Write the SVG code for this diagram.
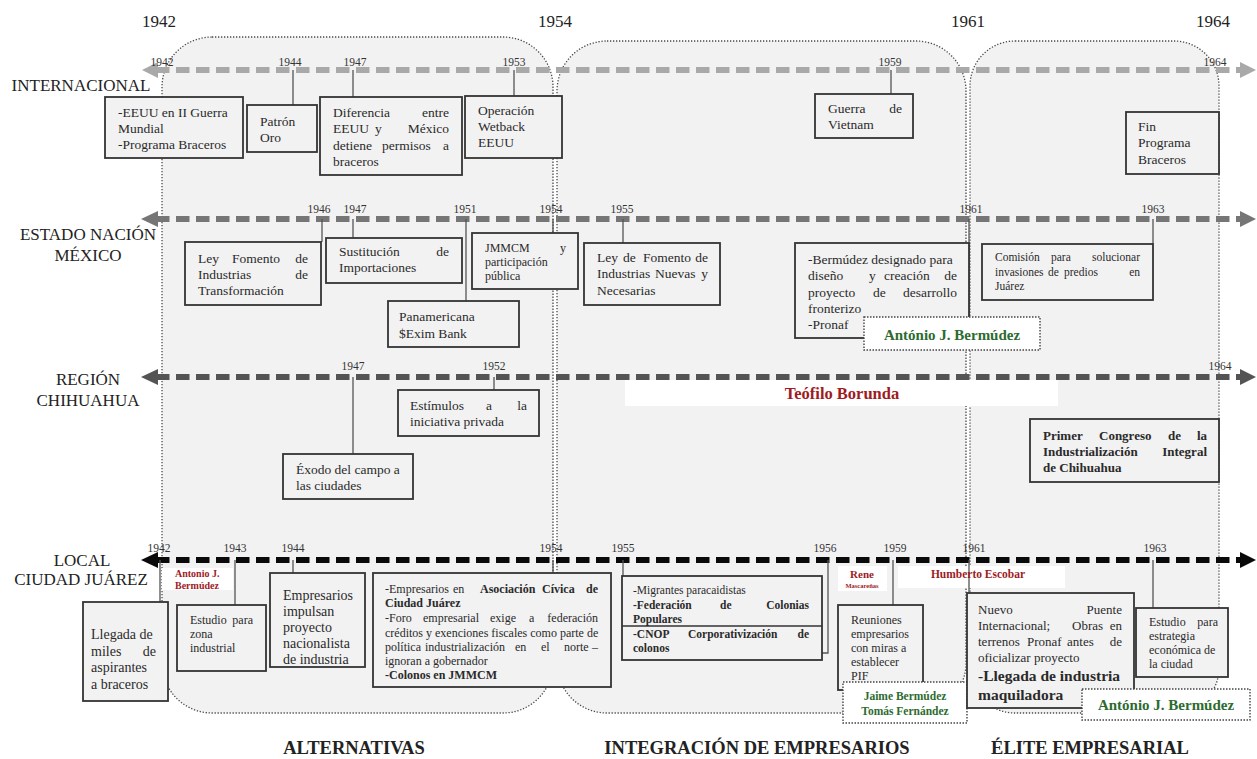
<svg xmlns="http://www.w3.org/2000/svg" width="1257" height="759" viewBox="0 0 1257 759">
<style>
.rg{fill:#f2f2f2;stroke:#4a4a4a;stroke-width:1.3;stroke-dasharray:1.3 1.7}
.bx{fill:#f2f2f2;stroke:#333;stroke-width:1.8}
.db{fill:#fff;stroke:#444;stroke-width:1.4;stroke-dasharray:1.5 1.5}
.wr{fill:#fff}
text{font-family:"Liberation Serif","Times New Roman",serif;fill:#2a2a2a}
.f135{font-size:13.5px}
.f14{font-size:14px}
.f13{font-size:13px}
.f12{font-size:12px}
.f115{font-size:11.5px}
.yr{font-size:11.5px;fill:#333;text-anchor:middle}
.top{font-size:17px;fill:#222;text-anchor:middle}
.lbl{font-size:17px;fill:#222;text-anchor:middle}
.sec{font-size:18.5px;font-weight:bold;fill:#222;text-anchor:middle}
.tk{stroke:#555;stroke-width:1.3;fill:none}
.b{font-weight:bold}
.e{text-anchor:end}
.m{text-anchor:middle}
.red{fill:#9e1b1f;font-weight:bold}
.grn{fill:#2d6b2f;font-weight:bold}
</style>

<g id="regions">
<rect class="rg" x="162" y="37" width="391" height="676" rx="50"/>
<rect class="rg" x="557" y="41" width="409" height="672" rx="50"/>
<rect class="rg" x="970" y="41" width="249" height="672" rx="45"/>
</g>

<g id="name-banners">
<rect class="wr" x="625" y="380" width="433" height="26"/>
<rect class="wr" x="162" y="568" width="71" height="22"/>
<rect class="wr" x="838" y="566" width="49" height="25"/>
<rect class="wr" x="898" y="566" width="167" height="22"/>
</g>

<g id="top-years">
<text class="top" x="159" y="27">1942</text>
<text class="top" x="555" y="27">1954</text>
<text class="top" x="968" y="27">1961</text>
<text class="top" x="1213" y="27">1964</text>
</g>

<g id="row-labels">
<text class="lbl" x="81" y="91">INTERNACIONAL</text>
<text class="lbl" x="88" y="240">ESTADO NACIÓN</text>
<text class="lbl" x="88" y="261">MÉXICO</text>
<text class="lbl" x="88" y="385">REGIÓN</text>
<text class="lbl" x="88" y="406">CHIHUAHUA</text>
<text class="lbl" x="82" y="566">LOCAL</text>
<text class="lbl" x="81" y="585">CIUDAD JUÁREZ</text>
</g>

<g id="connectors">
<line x1="156" y1="70" x2="1242" y2="70" stroke="#a9a9a9" stroke-width="6" stroke-dasharray="13.5 6.5"/>
<polygon points="142,70 158,62 158,78" fill="#a9a9a9"/>
<polygon points="1256,70 1240,62 1240,78" fill="#a9a9a9"/>
<line x1="156" y1="219" x2="1242" y2="219" stroke="#767676" stroke-width="6" stroke-dasharray="13.5 6.5"/>
<polygon points="141,219 158,211 158,227" fill="#767676"/>
<polygon points="1256,219 1240,211 1240,227" fill="#767676"/>
<line x1="156" y1="377" x2="1242" y2="377" stroke="#545454" stroke-width="6" stroke-dasharray="13.5 6.5"/>
<polygon points="141,377 158,369 158,385" fill="#545454"/>
<polygon points="1256,377 1240,369 1240,385" fill="#545454"/>
<line x1="156" y1="560" x2="1242" y2="560" stroke="#0a0a0a" stroke-width="6" stroke-dasharray="13.5 6.5"/>
<polygon points="141,560 158,552 158,568" fill="#0a0a0a"/>
<polygon points="1256,560 1240,552 1240,568" fill="#0a0a0a"/>
<path class="tk" d="M293,70V105 M353,70V97 M514,70V96 M891,70V94"/>
<path class="tk" d="M322,219V242 M353,219V238 M466,219V301 M553,219V233 M623,219V243 M969,219V318 M1153,219V244"/>
<path class="tk" d="M353,377V454 M494,377V390"/>
<path class="tk" d="M160,560V602 M235,560V605 M293,560V573 M553,560V573 M623,560V576 M828,560V653H822 M893,560V605 M969,560V593 M1153,560V608"/>
</g>

<g id="year-marks">
<text class="yr" x="162" y="66">1942</text>
<text class="yr" x="290" y="66">1944</text>
<text class="yr" x="355" y="66">1947</text>
<text class="yr" x="514" y="66">1953</text>
<text class="yr" x="890" y="66">1959</text>
<text class="yr" x="1215" y="66">1964</text>
<text class="yr" x="319" y="213">1946</text>
<text class="yr" x="355" y="213">1947</text>
<text class="yr" x="465" y="213">1951</text>
<text class="yr" x="551" y="213">1954</text>
<text class="yr" x="622" y="213">1955</text>
<text class="yr" x="971" y="213">1961</text>
<text class="yr" x="1153" y="213">1963</text>
<text class="yr" x="353" y="370">1947</text>
<text class="yr" x="494" y="370">1952</text>
<text class="yr" x="1220" y="370">1964</text>
<text class="yr" x="159" y="552">1942</text>
<text class="yr" x="235" y="552">1943</text>
<text class="yr" x="293" y="552">1944</text>
<text class="yr" x="551" y="552">1954</text>
<text class="yr" x="623" y="552">1955</text>
<text class="yr" x="825" y="552">1956</text>
<text class="yr" x="895" y="552">1959</text>
<text class="yr" x="974" y="552">1961</text>
<text class="yr" x="1155" y="552">1963</text>
</g>

<g id="n-eeuu-guerra">
<rect class="bx" x="105" y="97" width="138" height="61"/>
<text class="f135"><tspan x="118" y="117">-EEUU en II Guerra</tspan><tspan x="118" y="133">Mundial</tspan><tspan x="118" y="149">-Programa Braceros</tspan></text>
</g>
<g id="n-patron-oro">
<rect class="bx" x="247" y="105" width="70" height="47"/>
<text class="f135"><tspan x="260" y="126">Patrón</tspan><tspan x="260" y="142">Oro</tspan></text>
</g>
<g id="n-diferencia">
<rect class="bx" x="320" y="97" width="142" height="78"/>
<text class="f135"><tspan x="333" y="117">Diferencia</tspan><tspan class="e" x="449" y="117">entre</tspan><tspan x="333" y="133">EEUU</tspan><tspan x="375" y="133">y</tspan><tspan class="e" x="449" y="133">México</tspan><tspan x="333" y="150">detiene</tspan><tspan x="382" y="150">permisos</tspan><tspan class="e" x="449" y="150">a</tspan><tspan x="333" y="166">braceros</tspan></text>
</g>
<g id="n-wetback">
<rect class="bx" x="465" y="96" width="97" height="62"/>
<text class="f135"><tspan x="478" y="115">Operación</tspan><tspan x="478" y="131">Wetback</tspan><tspan x="478" y="147">EEUU</tspan></text>
</g>
<g id="n-vietnam">
<rect class="bx" x="815" y="94" width="98" height="44"/>
<text class="f135"><tspan x="828" y="113">Guerra</tspan><tspan class="e" x="902" y="113">de</tspan><tspan x="828" y="129">Vietnam</tspan></text>
</g>
<g id="n-fin-braceros">
<rect class="bx" x="1126" y="112" width="93" height="62"/>
<text class="f135"><tspan x="1138" y="131">Fin</tspan><tspan x="1138" y="147">Programa</tspan><tspan x="1138" y="164">Braceros</tspan></text>
</g>

<g id="n-ley-transformacion">
<rect class="bx" x="185" y="242" width="136" height="63"/>
<text class="f135"><tspan x="198" y="263">Ley</tspan><tspan x="232" y="263">Fomento</tspan><tspan class="e" x="308" y="263">de</tspan><tspan x="198" y="279">Industrias</tspan><tspan class="e" x="308" y="279">de</tspan><tspan x="198" y="295">Transformación</tspan></text>
</g>
<g id="n-sustitucion">
<rect class="bx" x="326" y="238" width="136" height="45"/>
<text class="f135"><tspan x="339" y="256">Sustitución</tspan><tspan class="e" x="449" y="256">de</tspan><tspan x="339" y="272">Importaciones</tspan></text>
</g>
<g id="n-jmmcm">
<rect class="bx" x="472" y="233" width="106" height="56"/>
<text class="f12"><tspan x="485" y="252">JMMCM</tspan><tspan class="e" x="566" y="252">y</tspan><tspan x="485" y="266">participación</tspan><tspan x="485" y="280">pública</tspan></text>
</g>
<g id="n-panamericana">
<rect class="bx" x="388" y="301" width="131" height="46"/>
<text class="f135"><tspan x="399" y="321">Panamericana</tspan><tspan x="399" y="338">$Exim Bank</tspan></text>
</g>
<g id="n-ley-nuevas">
<rect class="bx" x="584" y="243" width="136" height="62"/>
<text class="f135"><tspan x="597" y="262">Ley</tspan><tspan x="623" y="262">de</tspan><tspan x="643" y="262">Fomento</tspan><tspan class="e" x="708" y="262">de</tspan><tspan x="597" y="278">Industrias</tspan><tspan x="655" y="278">Nuevas</tspan><tspan class="e" x="708" y="278">y</tspan><tspan x="597" y="295">Necesarias</tspan></text>
</g>
<g id="n-bermudez-pronaf">
<rect class="bx" x="795" y="243" width="174" height="95"/>
<text class="f135"><tspan x="808" y="264">-Bermúdez designado para</tspan><tspan x="808" y="280">diseño</tspan><tspan x="869" y="280">y</tspan><tspan x="884" y="280">creación</tspan><tspan class="e" x="957" y="280">de</tspan><tspan x="808" y="297">proyecto</tspan><tspan x="873" y="297">de</tspan><tspan class="e" x="957" y="297">desarrollo</tspan><tspan x="808" y="313">fronterizo</tspan><tspan x="808" y="329">-Pronaf</tspan></text>
</g>
<g id="n-antonio-1">
<rect class="db" x="864" y="317" width="176" height="33"/>
<text class="grn m" x="952" y="340" font-size="15">António J. Bermúdez</text>
</g>
<g id="n-comision">
<rect class="bx" x="982" y="244" width="171" height="56"/>
<text class="f115"><tspan x="995" y="261">Comisión</tspan><tspan x="1051" y="261">para</tspan><tspan class="e" x="1140" y="261">solucionar</tspan><tspan x="995" y="276">invasiones</tspan><tspan x="1048" y="276">de</tspan><tspan x="1064" y="276">predios</tspan><tspan class="e" x="1140" y="276">en</tspan><tspan x="995" y="290">Juárez</tspan></text>
</g>

<g id="n-teofilo">
<text class="red m" x="842" y="399" font-size="16.5">Teófilo Borunda</text>
</g>
<g id="n-estimulos">
<rect class="bx" x="398" y="390" width="141" height="46"/>
<text class="f135"><tspan x="410" y="410">Estímulos</tspan><tspan x="486" y="410">a</tspan><tspan class="e" x="527" y="410">la</tspan><tspan x="410" y="426">iniciativa privada</tspan></text>
</g>
<g id="n-exodo">
<rect class="bx" x="283" y="454" width="130" height="45"/>
<text class="f135"><tspan x="296" y="474">Éxodo del campo a</tspan><tspan x="296" y="490">las ciudades</tspan></text>
</g>
<g id="n-primer-congreso">
<rect class="bx" x="1030" y="419" width="189" height="63"/>
<text class="f13 b"><tspan x="1043" y="440">Primer</tspan><tspan x="1099" y="440">Congreso</tspan><tspan x="1168" y="440">de</tspan><tspan class="e" x="1207" y="440">la</tspan><tspan x="1043" y="456">Industrialización</tspan><tspan class="e" x="1207" y="456">Integral</tspan><tspan x="1043" y="472">de Chihuahua</tspan></text>
</g>

<g id="n-antonio-red">
<text class="red" font-size="10"><tspan x="175" y="577">Antonio J.</tspan><tspan x="175" y="589">Bermúdez</tspan></text>
</g>
<g id="n-llegada">
<rect class="bx" x="83" y="602" width="85" height="99"/>
<text class="f14"><tspan x="91" y="639">Llegada de</tspan><tspan x="91" y="656">miles</tspan><tspan class="e" x="156" y="656">de</tspan><tspan x="91" y="672">aspirantes</tspan><tspan x="91" y="689">a braceros</tspan></text>
</g>
<g id="n-estudio-zona">
<rect class="bx" x="177" y="605" width="89" height="66"/>
<text class="f12"><tspan x="190" y="624">Estudio</tspan><tspan class="e" x="253" y="624">para</tspan><tspan x="190" y="638">zona</tspan><tspan x="190" y="652">industrial</tspan></text>
</g>
<g id="n-empresarios-impulsan">
<rect class="bx" x="270" y="573" width="95" height="94"/>
<text class="f14"><tspan x="283" y="600">Empresarios</tspan><tspan x="283" y="616">impulsan</tspan><tspan x="283" y="632">proyecto</tspan><tspan x="283" y="648">nacionalista</tspan><tspan x="283" y="664">de industria</tspan></text>
</g>
<g id="n-asociacion">
<rect class="bx" x="373" y="573" width="238" height="114"/>
<text class="f12"><tspan x="385" y="593">-Empresarios</tspan><tspan x="453" y="593">en</tspan><tspan class="b" x="480" y="593">Asociación</tspan><tspan class="b" x="542" y="593">Cívica</tspan><tspan class="b e" x="598" y="593">de</tspan><tspan class="b" x="385" y="607">Ciudad Juárez</tspan><tspan x="385" y="622">-Foro</tspan><tspan x="423" y="622">empresarial</tspan><tspan x="490" y="622">exige</tspan><tspan x="529" y="622">a</tspan><tspan class="e" x="598" y="622">federación</tspan><tspan x="385" y="637">créditos y exenciones fiscales como parte de</tspan><tspan x="385" y="651">política</tspan><tspan x="425" y="651">industrialización</tspan><tspan x="515" y="651">en</tspan><tspan x="541" y="651">el</tspan><tspan x="564" y="651">norte</tspan><tspan class="e" x="598" y="651">–</tspan><tspan x="385" y="665">ignoran a gobernador</tspan><tspan class="b" x="385" y="679">-Colonos en JMMCM</tspan></text>
</g>
<g id="n-migrantes">
<rect class="bx" x="622" y="576" width="200" height="84"/>
<line x1="622" y1="626" x2="822" y2="626" stroke="#333" stroke-width="1.4"/>
<text class="f115"><tspan x="633" y="594">-Migrantes paracaidistas</tspan><tspan class="b" x="633" y="609">-Federación</tspan><tspan class="b" x="720" y="609">de</tspan><tspan class="b e" x="809" y="609">Colonias</tspan><tspan class="b" x="633" y="623">Populares</tspan><tspan class="b" x="633" y="638">-CNOP</tspan><tspan class="b" x="688" y="638">Corporativización</tspan><tspan class="b e" x="809" y="638">de</tspan><tspan class="b" x="633" y="652">colonos</tspan></text>
</g>
<g id="n-rene">
<text class="red m" x="862" y="578" font-size="11">Rene</text>
<text class="red m" x="862" y="588" font-size="6.5">Mascareñas</text>
</g>
<g id="n-humberto">
<text class="red m" x="978" y="578" font-size="11.5">Humberto Escobar</text>
</g>
<g id="n-reuniones">
<rect class="bx" x="838" y="605" width="85" height="85"/>
<text class="f12"><tspan x="851" y="624">Reuniones</tspan><tspan x="851" y="638">empresarios</tspan><tspan x="851" y="652">con miras a</tspan><tspan x="851" y="666">establecer</tspan><tspan x="851" y="680">PIF</tspan></text>
</g>
<g id="n-jaime">
<rect class="db" x="843" y="682" width="124" height="41"/>
<text class="grn m" font-size="11.5"><tspan x="905" y="700">Jaime Bermúdez</tspan><tspan x="905" y="715">Tomás Fernández</tspan></text>
</g>
<g id="n-nuevo-puente">
<rect class="bx" x="967" y="593" width="167" height="115"/>
<text class="f13"><tspan x="978" y="614">Nuevo</tspan><tspan class="e" x="1122" y="614">Puente</tspan><tspan x="978" y="630">Internacional;</tspan><tspan x="1072" y="630">Obras</tspan><tspan class="e" x="1122" y="630">en</tspan><tspan x="978" y="646">terrenos</tspan><tspan x="1027" y="646">Pronaf</tspan><tspan x="1067" y="646">antes</tspan><tspan class="e" x="1122" y="646">de</tspan><tspan x="978" y="662">oficializar proyecto</tspan></text>
<text class="b" font-size="15.5"><tspan x="978" y="681">-Llegada de industria</tspan><tspan x="978" y="700">maquiladora</tspan></text>
</g>
<g id="n-estudio-estrategia">
<rect class="bx" x="1136" y="608" width="92" height="69"/>
<text class="f12"><tspan x="1149" y="626">Estudio</tspan><tspan class="e" x="1218" y="626">para</tspan><tspan x="1149" y="640">estrategia</tspan><tspan x="1149" y="654">económica de</tspan><tspan x="1149" y="668">la ciudad</tspan></text>
</g>
<g id="n-antonio-2">
<rect class="db" x="1082" y="689" width="168" height="31"/>
<text class="grn m" x="1166" y="710" font-size="15">António J. Bermúdez</text>
</g>

<g id="section-labels">
<text class="sec" x="354" y="754">ALTERNATIVAS</text>
<text class="sec" x="757" y="754">INTEGRACIÓN DE EMPRESARIOS</text>
<text class="sec" x="1090" y="754">ÉLITE EMPRESARIAL</text>
</g>
</svg>
